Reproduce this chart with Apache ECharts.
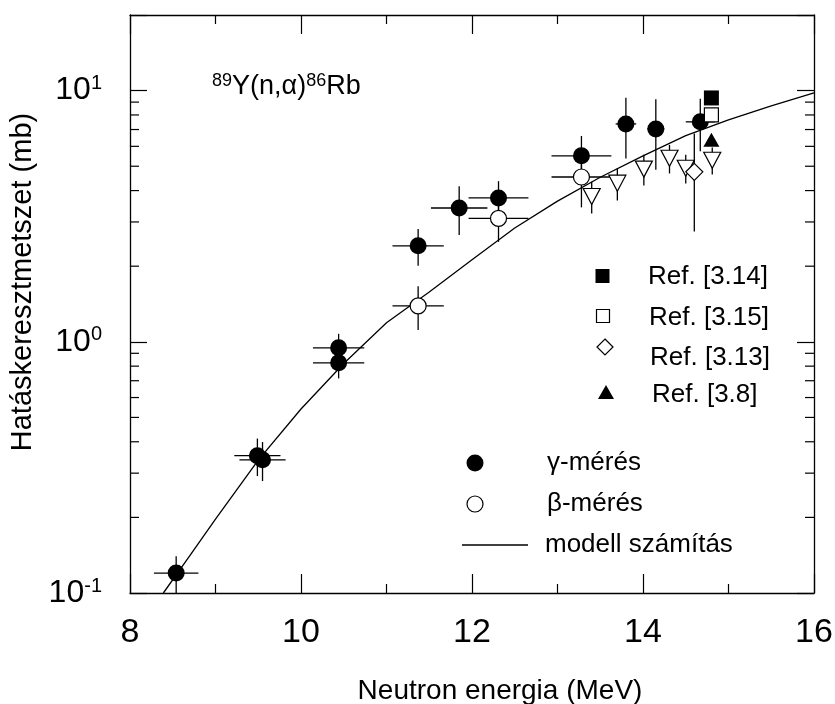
<!DOCTYPE html>
<html>
<head>
<meta charset="utf-8">
<script src="https://cdn.jsdelivr.net/npm/echarts@6/dist/echarts.min.js"></script>
<style>
  html, body { margin: 0; padding: 0; background: #fff; }
  #chart { width: 835px; height: 704px; }
</style>
</head>
<body>
<div id="chart"></div>
<script>
// 89Y(n,alpha)86Rb cross section vs. neutron energy

// gamma-counting measurements (filled circles)
const gammaEnergy   = [8.54, 9.49, 9.55, 10.44, 10.44, 11.37, 11.85, 12.31, 13.28, 13.80, 14.15, 14.67];
const gammaSigma    = [0.120, 0.352, 0.339, 0.946, 0.825, 2.41, 3.41, 3.74, 5.50, 7.37, 7.04, 7.51];
const gammaEnergyErr = [0.26, 0.27, 0.27, 0.30, 0.30, 0.30, 0.33, 0.35, 0.35, 0.12, 0.10, 0.17];
const gammaSigmaErr  = [0.02, 0.06, 0.06, 0.13, 0.11, 0.40, 0.75, 0.62, 1.10, 2.00, 2.20, 1.77];

// beta-counting measurements (open circles)
const betaEnergy    = [11.37, 12.31, 13.28];
const betaSigma     = [1.39, 3.10, 4.53];
const betaEnergyErr = [0.30, 0.35, 0.35];
const betaSigmaErr  = [0.275, 0.60, 1.10];

// literature values
const ref314 = { energy: [14.80], sigma: [9.35] };
const ref315 = { energy: [14.80], sigma: [8.00] };
const ref313 = { energy: [14.60], sigma: [4.75], err: [2.00] };
const ref38  = { energy: [14.80], sigma: [6.37] };

// further literature data (open down-pointing triangles)
const otherEnergy = [13.40, 13.70, 14.01, 14.31, 14.50, 14.81];
const otherSigma  = [3.79, 4.28, 4.87, 5.38, 4.91, 5.28];
const otherErr    = [0.55, 0.63, 0.68, 0.70, 0.64, 0.65];

// model calculation
const modelEnergy = [8.39, 8.7, 9.0, 9.5, 10.0, 10.5, 11.0, 11.5, 12.0, 12.5, 13.0, 13.5, 14.0, 14.5, 15.0, 15.5, 16.0];
const modelSigma  = [0.100, 0.141, 0.197, 0.338, 0.54, 0.82, 1.19, 1.58, 2.12, 2.84, 3.63, 4.52, 5.50, 6.62, 7.65, 8.70, 9.80];

// axes
const xMin = 8, xMax = 16, xStep = 2;
const yMin = 0.1, yMax = 20;
const yMinorTicks = [0.2, 0.3, 0.4, 0.5, 0.6, 0.7, 0.8, 0.9, 2, 3, 4, 5, 6, 7, 8, 9];

const FONT = "'Liberation Sans', Arial, Helvetica, sans-serif";
const INK = '#000';

function errRows(xs, ys, dx, dy) {
  return xs.map((x, i) => [x, ys[i], x - dx[i], x + dx[i], ys[i] - dy[i], ys[i] + dy[i]]);
}
function pts(xs, ys) { return xs.map((x, i) => [x, ys[i]]); }

function renderErr(params, api) {
  const x = api.value(0), y = api.value(1);
  const xl = api.value(2), xh = api.value(3), yl = api.value(4), yh = api.value(5);
  const kids = [];
  const st = { stroke: INK, lineWidth: 1.3 };
  if (xh > xl) {
    const a = api.coord([xl, y]), b = api.coord([xh, y]);
    kids.push({ type: 'line', shape: { x1: a[0], y1: a[1], x2: b[0], y2: b[1] }, style: st });
  }
  if (yh > yl) {
    const a = api.coord([x, yl]), b = api.coord([x, yh]);
    kids.push({ type: 'line', shape: { x1: a[0], y1: a[1], x2: b[0], y2: b[1] }, style: st });
  }
  return { type: 'group', children: kids };
}

function renderMinorY(params, api) {
  const cs = params.coordSys;
  const p = api.coord([xMin, api.value(1)]);
  const st = { stroke: INK, lineWidth: 1.2 };
  return {
    type: 'group',
    children: [
      { type: 'line', shape: { x1: cs.x, y1: p[1], x2: cs.x + 9, y2: p[1] }, style: st },
      { type: 'line', shape: { x1: cs.x + cs.width - 9, y1: p[1], x2: cs.x + cs.width, y2: p[1] }, style: st }
    ]
  };
}

const errEncode = { x: 0, y: 1 };
const errDims = ['x', 'y', 'xl', 'xh', 'yl', 'yh'];

const axisLine = { show: true, onZero: false, lineStyle: { color: INK, width: 1.3 } };
const solid = c => ({ color: c, opacity: 1 });
const hollow = { color: '#fff', borderColor: INK, borderWidth: 1.2, opacity: 1 };

const chart = echarts.init(document.getElementById('chart'), null, { renderer: 'canvas' });

chart.setOption({
  animation: false,
  backgroundColor: '#fff',
  grid: { left: 130, right: 21, top: 15, bottom: 111, containLabel: false, outerBoundsMode: 'none' },
  xAxis: [
    {
      type: 'value', min: xMin, max: xMax, interval: xStep, position: 'bottom',
      axisLine: axisLine,
      axisTick: { inside: true, length: 19, lineStyle: { color: INK, width: 1.2 } },
      minorTick: { show: true, splitNumber: 2, length: 9, lineStyle: { color: INK, width: 1.2 } },
      axisLabel: { color: INK, fontSize: 34, fontFamily: FONT, margin: 23 },
      splitLine: { show: false },
      name: 'Neutron energia (MeV)', nameLocation: 'middle', nameGap: 84,
      nameTextStyle: { color: INK, fontSize: 28, fontFamily: FONT, padding: [0, 0, 0, 56] }
    },
    {
      type: 'value', min: xMin, max: xMax, interval: xStep, position: 'top',
      axisLine: axisLine,
      axisTick: { inside: true, length: 19, lineStyle: { color: INK, width: 1.2 } },
      minorTick: { show: true, splitNumber: 2, length: 9, lineStyle: { color: INK, width: 1.2 } },
      axisLabel: { show: false }, splitLine: { show: false }
    }
  ],
  yAxis: [
    {
      type: 'log', logBase: 10, min: yMin, max: yMax, position: 'left',
      axisLine: axisLine,
      axisTick: { inside: true, length: 17, lineStyle: { color: INK, width: 1.2 } },
      axisLabel: {
        margin: 28,
        formatter: function (v) {
          const l = Math.log10(v), e = Math.round(l);
          if (Math.abs(l - e) > 1e-6) return '';
          return '{b|10}{s|' + e + '}';
        },
        rich: {
          b: { fontSize: 32, fontFamily: FONT, color: INK, lineHeight: 34 },
          s: { fontSize: 20, fontFamily: FONT, color: INK, verticalAlign: 'top', lineHeight: 20 }
        }
      },
      splitLine: { show: false },
      name: 'Hatáskeresztmetszet (mb)', nameLocation: 'middle', nameGap: 90,
      nameTextStyle: { color: INK, fontSize: 29, fontFamily: FONT, padding: [0, 0, 0, 44] }
    },
    {
      type: 'log', logBase: 10, min: yMin, max: yMax, position: 'right',
      axisLine: axisLine,
      axisTick: { inside: true, length: 17, lineStyle: { color: INK, width: 1.2 } },
      axisLabel: { show: false }, splitLine: { show: false }
    }
  ],
  graphic: [
    // reaction label
    {
      type: 'text', left: 212, top: 72,
      style: {
        text: '{s|89}{b|Y(n,α)}{s|86}{b|Rb}',
        rich: {
          b: { fontSize: 27, fontFamily: FONT, fill: INK, lineHeight: 30 },
          s: { fontSize: 18, fontFamily: FONT, fill: INK, verticalAlign: 'top', lineHeight: 18 }
        }
      }
    },
    // key: literature references
    { type: 'rect', shape: { x: 595.5, y: 269, width: 14, height: 14 }, style: { fill: INK } },
    { type: 'text', x: 648, y: 277, style: { text: 'Ref. [3.14]', font: '26px ' + FONT, fill: INK, verticalAlign: 'middle' } },
    { type: 'rect', shape: { x: 596.5, y: 309.5, width: 13, height: 13 }, style: { fill: '#fff', stroke: INK, lineWidth: 1.2 } },
    { type: 'text', x: 649, y: 318, style: { text: 'Ref. [3.15]', font: '26px ' + FONT, fill: INK, verticalAlign: 'middle' } },
    { type: 'polygon', shape: { points: [[605, 339], [613, 347], [605, 355], [597, 347]] }, style: { fill: '#fff', stroke: INK, lineWidth: 1.2 } },
    { type: 'text', x: 650, y: 358, style: { text: 'Ref. [3.13]', font: '26px ' + FONT, fill: INK, verticalAlign: 'middle' } },
    { type: 'polygon', shape: { points: [[606, 385], [614, 399], [598, 399]] }, style: { fill: INK } },
    { type: 'text', x: 652, y: 395, style: { text: 'Ref. [3.8]', font: '26px ' + FONT, fill: INK, verticalAlign: 'middle' } },
    // key: own measurements and model
    { type: 'circle', shape: { cx: 475, cy: 463, r: 8.5 }, style: { fill: INK } },
    { type: 'text', x: 547, y: 463, style: { text: 'γ-mérés', font: '26px ' + FONT, fill: INK, verticalAlign: 'middle' } },
    { type: 'circle', shape: { cx: 475, cy: 504, r: 8 }, style: { fill: '#fff', stroke: INK, lineWidth: 1.2 } },
    { type: 'text', x: 547, y: 504, style: { text: 'β-mérés', font: '26px ' + FONT, fill: INK, verticalAlign: 'middle' } },
    { type: 'line', shape: { x1: 462, y1: 545, x2: 528, y2: 545 }, style: { stroke: INK, lineWidth: 1.3 } },
    { type: 'text', x: 545, y: 545, style: { text: 'modell számítás', font: '26px ' + FONT, fill: INK, verticalAlign: 'middle' } }
  ],
  series: [
    {
      type: 'custom', name: 'minor y ticks', renderItem: renderMinorY, silent: true,
      data: yMinorTicks.map(v => [xMin, v]), encode: { x: 0, y: 1 }
    },
    {
      type: 'line', name: 'modell számítás', data: pts(modelEnergy, modelSigma),
      showSymbol: false, symbol: 'none', lineStyle: { color: INK, width: 1.3 }, clip: true, z: 2
    },
    { type: 'custom', name: 'γ err', renderItem: renderErr, dimensions: errDims, encode: errEncode,
      data: errRows(gammaEnergy, gammaSigma, gammaEnergyErr, gammaSigmaErr), z: 2 },
    { type: 'custom', name: 'β err', renderItem: renderErr, dimensions: errDims, encode: errEncode,
      data: errRows(betaEnergy, betaSigma, betaEnergyErr, betaSigmaErr), z: 2 },
    { type: 'custom', name: 'ref err', renderItem: renderErr, dimensions: errDims, encode: errEncode,
      data: errRows(otherEnergy, otherSigma, otherEnergy.map(() => 0), otherErr)
        .concat(errRows(ref313.energy, ref313.sigma, [0], ref313.err)), z: 2 },
    {
      type: 'scatter', name: 'γ-mérés', data: pts(gammaEnergy, gammaSigma),
      symbol: 'circle', symbolSize: 17, itemStyle: solid(INK), z: 3
    },
    {
      type: 'scatter', name: 'β-mérés', data: pts(betaEnergy, betaSigma),
      symbol: 'circle', symbolSize: 16, itemStyle: hollow, z: 3
    },
    {
      type: 'scatter', name: 'other', data: pts(otherEnergy, otherSigma),
      symbol: 'triangle', symbolRotate: 180, symbolSize: [17, 16], itemStyle: hollow, z: 3
    },
    {
      type: 'scatter', name: 'Ref. [3.14]', data: pts(ref314.energy, ref314.sigma),
      symbol: 'rect', symbolSize: 15, itemStyle: solid(INK), z: 3
    },
    {
      type: 'scatter', name: 'Ref. [3.15]', data: pts(ref315.energy, ref315.sigma),
      symbol: 'rect', symbolSize: 14, itemStyle: hollow, z: 3
    },
    {
      type: 'scatter', name: 'Ref. [3.13]', data: pts(ref313.energy, ref313.sigma),
      symbol: 'diamond', symbolSize: 17, itemStyle: hollow, z: 3
    },
    {
      type: 'scatter', name: 'Ref. [3.8]', data: pts(ref38.energy, ref38.sigma),
      symbol: 'triangle', symbolSize: [16, 14], itemStyle: solid(INK), z: 3
    }
  ]
});
</script>
</body>
</html>
